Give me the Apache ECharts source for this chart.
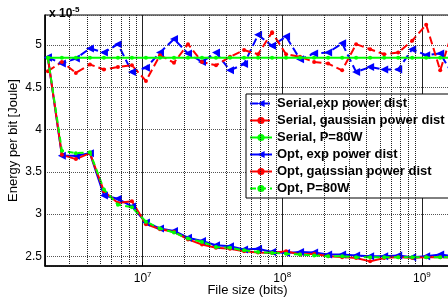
<!DOCTYPE html>
<html>
<head>
<meta charset="utf-8">
<script src="https://cdn.jsdelivr.net/npm/echarts@6/dist/echarts.min.js"></script>
<style>
  html, body { margin: 0; padding: 0; background: #fff; }
  #chart { width: 448px; height: 302px; }
</style>
</head>
<body>
<div id="chart"></div>
<script>
// file sizes (bits), 2^21 .. 2^30.67 in steps of 2^(1/3)
const fileSizes = [2097152, 2642246, 3329021, 4194304, 5284492, 6658043, 8388608, 10568984, 13316085,
   16777216, 21137968, 26632170, 33554432, 42275935, 53264341, 67108864, 84551870, 106528681,
   134217728, 169103741, 213057363, 268435456, 338207482, 426114725, 536870912, 676414964,
   852229450, 1073741824, 1352829928, 1704458900];

// energy per bit, x 1e-5 Joule
const serialExp = [4.855, 4.78, 4.84, 4.96, 4.91, 5.01, 4.68, 4.73, 4.91, 5.07, 4.90, 4.80, 4.91, 4.70, 4.775,
   5.12, 4.99, 5.10, 4.83, 4.90, 4.91, 5.02, 4.68, 4.74, 4.71, 4.71, 4.95, 4.88, 4.90, 4.62];
const serialGauss = [4.69, 4.80, 4.67, 4.77, 4.71, 4.74, 4.76, 4.575, 4.88, 4.79, 5.01, 4.80, 4.76, 4.86, 4.94,
   4.89, 5.15, 4.89, 4.86, 4.80, 4.78, 4.70, 5.01, 4.95, 4.89, 4.91, 5.05, 5.24, 4.70, 5.22];
const serialP80 = [4.85, 4.85, 4.85, 4.85, 4.85, 4.85, 4.85, 4.85, 4.85, 4.85, 4.85, 4.85, 4.85, 4.85, 4.85,
   4.85, 4.85, 4.85, 4.85, 4.85, 4.85, 4.85, 4.85, 4.85, 4.85, 4.85, 4.85, 4.85, 4.85, 4.85];
const optExp = [4.85, 3.69, 3.69, 3.72, 3.22, 3.18, 3.09, 2.90, 2.83, 2.80, 2.72, 2.68, 2.63, 2.62, 2.58,
   2.59, 2.55, 2.54, 2.55, 2.545, 2.52, 2.52, 2.51, 2.50, 2.50, 2.51, 2.49, 2.50, 2.52, 2.50];
const optGauss = [4.85, 3.70, 3.65, 3.72, 3.27, 3.13, 3.15, 2.88, 2.82, 2.79, 2.70, 2.64, 2.60, 2.59, 2.56,
   2.545, 2.54, 2.56, 2.52, 2.53, 2.50, 2.49, 2.48, 2.44, 2.48, 2.49, 2.48, 2.49, 2.49, 2.48];
const optP80 = [4.85, 3.75, 3.72, 3.73, 3.29, 3.11, 3.08, 2.91, 2.83, 2.78, 2.71, 2.67, 2.61, 2.60, 2.57,
   2.55, 2.54, 2.53, 2.52, 2.51, 2.50, 2.50, 2.49, 2.49, 2.49, 2.49, 2.49, 2.49, 2.49, 2.49];

const legendNames = ['Serial,exp power dist', 'Serial, gaussian power dist', 'Serial, P=80W',
   'Opt, exp power dist', 'Opt, gaussian power dist', 'Opt, P=80W'];

// minor vertical grid lines of the log axis
const minorGrid = [3e6, 4e6, 5e6, 6e6, 7e6, 8e6, 9e6,
   2e7, 3e7, 4e7, 5e7, 6e7, 7e7, 8e7, 9e7,
   2e8, 3e8, 4e8, 5e8, 6e8, 7e8, 8e8, 9e8];

const FONT = '"Liberation Sans", Arial, Helvetica, sans-serif';

function pairs(values) {
   return fileSizes.map((x, i) => [x, values[i]]);
}

function makeSeries(name, values, color, opts) {
   return {
      name: name,
      type: 'line',
      data: pairs(values),
      symbol: opts.symbol,
      symbolSize: opts.size,
      symbolRotate: opts.rotate || 0,
      z: opts.z || 2,
      itemStyle: { color: color },
      lineStyle: { color: color, width: 2, type: opts.dash || 'solid' },
      emphasis: { disabled: true }
   };
}

const chart = echarts.init(document.getElementById('chart'), null, { renderer: 'canvas' });

const option = {
   animation: false,
   backgroundColor: '#fff',
   textStyle: { fontFamily: FONT },
   title: {
      text: '{a|x 10}{b|-5}',
      left: 44,
      top: 1,
      textStyle: {
         rich: {
            a: { fontSize: 12, fontFamily: FONT, color: '#000' },
            b: { fontSize: 8, fontFamily: FONT, color: '#000', padding: [0, 0, 8, 0] }
         }
      }
   },
   grid: {
      left: 45, top: 15, right: -2, bottom: 36,
      containLabel: false,
      outerBoundsMode: 'none',
      show: true, borderColor: '#000', borderWidth: 1
   },
   legend: {
      data: legendNames,
      orient: 'vertical',
      left: 246,
      top: 94,
      backgroundColor: '#fff',
      borderColor: '#000',
      borderWidth: 1,
      borderRadius: 0,
      padding: [3, 10, 3, 3],
      itemWidth: 22,
      itemHeight: 9,
      itemGap: 4,
      textStyle: { fontFamily: FONT, fontSize: 13, fontWeight: 'bold', color: '#000' }
   },
   xAxis: {
      type: 'log',
      logBase: 10,
      min: 2e6,
      max: 1.59e9,
      name: 'File size (bits)',
      nameLocation: 'middle',
      nameGap: 18,
      nameMoveOverlap: false,
      nameTextStyle: { fontSize: 13, color: '#000', fontFamily: FONT },
      axisLine: { lineStyle: { color: '#000', width: 1.5 } },
      axisTick: { inside: true, length: 4, lineStyle: { color: '#000' } },
      splitLine: { show: true, lineStyle: { color: '#222', width: 1 } },
      axisLabel: {
         showMinLabel: false,
         showMaxLabel: false,
         margin: 5,
         formatter: function (v) {
            const e = Math.log10(v);
            if (Math.abs(e - Math.round(e)) > 1e-6) return '';
            return '{b|10}{s|' + Math.round(e) + '}';
         },
         rich: {
            b: { fontSize: 12, fontFamily: FONT, color: '#000' },
            s: { fontSize: 8, fontFamily: FONT, color: '#000', padding: [0, 0, 8, 0] }
         }
      }
   },
   yAxis: {
      type: 'value',
      min: 2.385,
      max: 5.355,
      name: 'Energy per bit [Joule]',
      nameLocation: 'middle',
      nameGap: 25,
      nameMoveOverlap: false,
      nameTextStyle: { fontSize: 13, color: '#000', fontFamily: FONT },
      axisLine: { show: true, lineStyle: { color: '#000', width: 1.5 } },
      axisTick: { show: false },
      splitLine: { show: true, lineStyle: { color: '#555', type: 'dotted', width: 1 } },
      axisLabel: {
         showMinLabel: false,
         showMaxLabel: false,
         margin: 3,
         fontSize: 12,
         color: '#000',
         fontFamily: FONT
      }
   },
   series: [
      {
         name: 'grid',
         type: 'line',
         data: [],
         silent: true,
         markLine: {
            silent: true,
            symbol: 'none',
            label: { show: false },
            lineStyle: { color: '#222', type: 'dotted', width: 1 },
            emphasis: { disabled: true },
            data: minorGrid.map(v => ({ xAxis: v }))
         }
      },
      makeSeries(legendNames[0], serialExp, '#0000ff', { symbol: 'triangle', size: 8, rotate: 90, dash: [8, 4] }),
      makeSeries(legendNames[1], serialGauss, '#ff0000', { symbol: 'circle', size: 4, dash: [8, 4] }),
      makeSeries(legendNames[2], serialP80, '#00ff00', { symbol: 'circle', size: 4, z: 3 }),
      makeSeries(legendNames[3], optExp, '#0000ff', { symbol: 'triangle', size: 8, rotate: 90 }),
      makeSeries(legendNames[4], optGauss, '#ff0000', { symbol: 'circle', size: 4 }),
      makeSeries(legendNames[5], optP80, '#00ff00', { symbol: 'circle', size: 4, dash: [6, 4], z: 3 })
   ]
};

chart.setOption(option);
</script>
</body>
</html>
